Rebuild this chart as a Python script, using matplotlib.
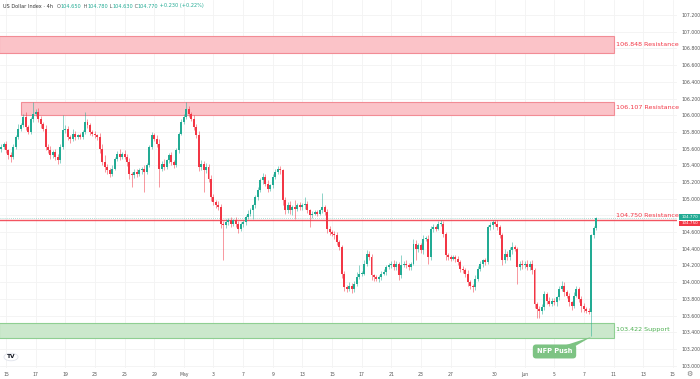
import matplotlib as mpl
mpl.use('Agg')
import matplotlib.pyplot as plt
from matplotlib.patches import Rectangle, Polygon, Circle
import numpy as np

# 4h candles, first two are the tail of Apr 12, then Apr 15 .. Jun 7 (6 per trading day)
first_open = 105.60
closes = [
    105.62, 105.66,
    105.58, 105.52, 105.50, 105.62, 105.74, 105.84,  # Apr 15
    105.88, 105.98, 105.86, 105.80, 105.95, 106.02,  # 16
    106.04, 105.96, 105.90, 105.84, 105.62, 105.58,  # 17
    105.52, 105.56, 105.50, 105.46, 105.62, 105.82,  # 18
    105.84, 105.74, 105.72, 105.78, 105.74, 105.76,  # 19
    105.74, 105.80, 105.92, 105.88, 105.80, 105.78,  # 22
    105.76, 105.74, 105.60, 105.44, 105.38, 105.34,  # 23
    105.30, 105.36, 105.48, 105.54, 105.50, 105.54,  # 24
    105.50, 105.44, 105.30, 105.28, 105.32, 105.30,  # 25
    105.34, 105.36, 105.32, 105.40, 105.62, 105.76,  # 26
    105.72, 105.66, 105.36, 105.42, 105.38, 105.46,  # 29
    105.52, 105.44, 105.40, 105.58, 105.78, 105.92,  # 30
    105.98, 106.08, 106.02, 105.96, 105.86, 105.76,  # May 1
    105.38, 105.42, 105.34, 105.38, 105.24, 105.02,  # 2
    104.96, 104.92, 104.90, 104.70, 104.68, 104.72,  # 3
    104.74, 104.70, 104.74, 104.70, 104.64, 104.70,  # 6
    104.72, 104.78, 104.82, 104.86, 104.92, 105.02,  # 7
    105.10, 105.22, 105.26, 105.18, 105.12, 105.16,  # 8
    105.26, 105.32, 105.36, 105.34, 104.98, 104.86,  # 9
    104.92, 104.86, 104.90, 104.88, 104.92, 104.90,  # 10
    104.92, 104.94, 104.86, 104.80, 104.82, 104.84,  # 13
    104.82, 104.86, 104.90, 104.84, 104.64, 104.60,  # 14
    104.58, 104.56, 104.48, 104.42, 104.10, 103.94,  # 15
    103.92, 103.96, 103.92, 103.98, 104.06, 104.10,  # 16
    104.10, 104.22, 104.34, 104.30, 104.08, 104.06,  # 17
    104.04, 104.06, 104.10, 104.12, 104.18, 104.20,  # 20
    104.22, 104.18, 104.22, 104.08, 104.20, 104.22,  # 21
    104.20, 104.18, 104.22, 104.46, 104.40, 104.44,  # 22
    104.38, 104.52, 104.52, 104.30, 104.64, 104.66,  # 23
    104.64, 104.70, 104.70, 104.58, 104.32, 104.30,  # 24
    104.28, 104.30, 104.28, 104.24, 104.16, 104.14,  # 27
    104.10, 104.00, 103.96, 103.94, 104.04, 104.16,  # 28
    104.22, 104.26, 104.24, 104.66, 104.68, 104.72,  # 29
    104.70, 104.66, 104.56, 104.26, 104.34, 104.30,  # 30
    104.38, 104.42, 104.40, 104.18, 104.22, 104.20,  # 31
    104.22, 104.18, 104.22, 104.14, 103.74, 103.68,  # Jun 3
    103.66, 103.70, 103.86, 103.78, 103.74, 103.78,  # 4
    103.76, 103.82, 103.92, 103.96, 103.88, 103.84,  # 5
    103.76, 103.72, 103.84, 103.92, 103.80, 103.72,  # 6
    103.68, 103.66, 103.64, 104.56, 104.65, 104.77,  # 7
]
upper_wick = [
    0.03, 0.02,
    0.03, 0.02, 0.04, 0.03, 0.02, 0.05,
    0.03, 0.04, 0.06, 0.02, 0.03, 0.14,
    0.04, 0.05, 0.03, 0.02, 0.04, 0.03,
    0.05, 0.02, 0.03, 0.04, 0.03, 0.18,
    0.04, 0.03, 0.02, 0.05, 0.03, 0.02,
    0.03, 0.02, 0.12, 0.04, 0.03, 0.02,
    0.03, 0.02, 0.05, 0.06, 0.08, 0.04,
    0.03, 0.04, 0.02, 0.03, 0.05, 0.02,
    0.04, 0.03, 0.05, 0.02, 0.03, 0.04,
    0.03, 0.02, 0.04, 0.03, 0.02, 0.04,
    0.03, 0.04, 0.06, 0.03, 0.05, 0.02,
    0.03, 0.04, 0.02, 0.03, 0.02, 0.03,
    0.04, 0.08, 0.03, 0.02, 0.04, 0.03,
    0.05, 0.04, 0.03, 0.05, 0.03, 0.04,
    0.04, 0.03, 0.05, 0.04, 0.03, 0.04,
    0.03, 0.04, 0.02, 0.04, 0.03, 0.02,
    0.03, 0.02, 0.04, 0.03, 0.02, 0.03,
    0.04, 0.03, 0.05, 0.03, 0.04, 0.02,
    0.03, 0.04, 0.03, 0.03, 0.02, 0.04,
    0.04, 0.05, 0.03, 0.08, 0.03, 0.04,
    0.03, 0.08, 0.03, 0.02, 0.03, 0.02,
    0.03, 0.02, 0.17, 0.03, 0.04, 0.03,
    0.02, 0.03, 0.04, 0.03, 0.02, 0.03,
    0.03, 0.04, 0.03, 0.04, 0.06, 0.10,
    0.03, 0.04, 0.05, 0.03, 0.04, 0.02,
    0.03, 0.02, 0.03, 0.04, 0.02, 0.03,
    0.03, 0.04, 0.03, 0.02, 0.12, 0.03,
    0.04, 0.03, 0.02, 0.06, 0.04, 0.03,
    0.03, 0.04, 0.03, 0.04, 0.03, 0.04,
    0.03, 0.03, 0.04, 0.03, 0.02, 0.03,
    0.02, 0.03, 0.02, 0.03, 0.02, 0.03,
    0.03, 0.04, 0.03, 0.02, 0.04, 0.03,
    0.03, 0.02, 0.03, 0.03, 0.04, 0.03,
    0.03, 0.04, 0.02, 0.03, 0.06, 0.03,
    0.04, 0.06, 0.03, 0.02, 0.03, 0.04,
    0.03, 0.04, 0.03, 0.04, 0.03, 0.02,
    0.03, 0.04, 0.03, 0.02, 0.04, 0.03,
    0.03, 0.02, 0.04, 0.05, 0.04, 0.03,
    0.03, 0.02, 0.04, 0.03, 0.02, 0.03,
    0.03, 0.02, 0.03, 0.02, 0.02, 0.01,
]
lower_wick = [
    0.04, 0.03,
    0.03, 0.05, 0.06, 0.02, 0.03, 0.02,
    0.03, 0.02, 0.04, 0.03, 0.02, 0.03,
    0.03, 0.04, 0.05, 0.03, 0.04, 0.03,
    0.04, 0.03, 0.04, 0.05, 0.03, 0.02,
    0.03, 0.04, 0.05, 0.03, 0.04, 0.03,
    0.02, 0.03, 0.02, 0.03, 0.04, 0.03,
    0.03, 0.04, 0.05, 0.04, 0.06, 0.05,
    0.04, 0.03, 0.02, 0.03, 0.04, 0.02,
    0.03, 0.05, 0.06, 0.14, 0.03, 0.04,
    0.03, 0.04, 0.24, 0.03, 0.02, 0.03,
    0.03, 0.04, 0.22, 0.03, 0.04, 0.03,
    0.03, 0.04, 0.03, 0.02, 0.03, 0.02,
    0.03, 0.02, 0.04, 0.03, 0.04, 0.03,
    0.05, 0.04, 0.26, 0.03, 0.04, 0.05,
    0.04, 0.03, 0.04, 0.05, 0.42, 0.03,
    0.03, 0.04, 0.03, 0.04, 0.05, 0.03,
    0.04, 0.03, 0.02, 0.03, 0.10, 0.03,
    0.03, 0.02, 0.04, 0.03, 0.04, 0.03,
    0.03, 0.02, 0.03, 0.04, 0.05, 0.04,
    0.03, 0.04, 0.05, 0.12, 0.03, 0.04,
    0.03, 0.04, 0.03, 0.14, 0.03, 0.02,
    0.03, 0.02, 0.03, 0.04, 0.05, 0.04,
    0.03, 0.04, 0.03, 0.04, 0.05, 0.04,
    0.04, 0.03, 0.05, 0.04, 0.03, 0.02,
    0.03, 0.02, 0.03, 0.04, 0.05, 0.04,
    0.03, 0.04, 0.03, 0.02, 0.03, 0.02,
    0.03, 0.04, 0.03, 0.05, 0.03, 0.02,
    0.03, 0.04, 0.03, 0.02, 0.13, 0.04,
    0.03, 0.04, 0.03, 0.08, 0.03, 0.04,
    0.03, 0.02, 0.03, 0.04, 0.05, 0.03,
    0.03, 0.02, 0.04, 0.03, 0.04, 0.03,
    0.04, 0.05, 0.04, 0.06, 0.03, 0.02,
    0.03, 0.04, 0.03, 0.02, 0.03, 0.04,
    0.03, 0.04, 0.03, 0.05, 0.03, 0.04,
    0.03, 0.04, 0.03, 0.20, 0.03, 0.04,
    0.03, 0.04, 0.03, 0.04, 0.05, 0.11,
    0.09, 0.04, 0.03, 0.04, 0.03, 0.02,
    0.03, 0.04, 0.03, 0.02, 0.04, 0.03,
    0.04, 0.05, 0.03, 0.02, 0.04, 0.08,
    0.04, 0.03, 0.02, 0.28, 0.03, 0.02,
]

# date labels: trading-day number counted from Apr 15
tick_days = [0, 2, 4, 6, 8, 10, 12, 14, 16, 18, 20, 22, 24, 26, 28, 30, 33, 35, 37, 39, 41, 43, 45]
tick_labels = ['15', '17', '19', '23', '25', '29', 'May', '3', '7', '9', '13', '15',
               '17', '21', '23', '27', '30', 'Jun', '5', '7', '11', '13', '15']
price_ticks = [103.0, 103.2, 103.4, 103.6, 103.8, 104.0, 104.2, 104.4, 104.6, 104.8,
               105.0, 105.2, 105.4, 105.6, 105.8, 106.0, 106.2, 106.4, 106.6, 106.8,
               107.0, 107.2]

# levels (bottom, top) of the drawn zones and the line
res_zone_1 = (106.75, 106.95)
res_zone_2 = (106.00, 106.16)
sup_zone = (103.33, 103.51)
res_line = 104.750
last_price = 104.770

UP = '#22ab94'
DOWN = '#f23645'

closes = np.array(closes)
opens = np.concatenate([[first_open], closes[:-1]])
highs = np.maximum(opens, closes) + np.array(upper_wick)
lows = np.minimum(opens, closes) - np.array(lower_wick)
x = np.arange(len(closes)) - 2
colors = np.where(closes >= opens, UP, DOWN)

fig = plt.figure(figsize=(7, 3.79), dpi=100)
ax = fig.add_axes([0, 11 / 379, 677 / 700, 368 / 379])
ax.set_xlim(-2.43, 271.7)
ax.set_ylim(102.972, 107.38)

ax.set_xticks([d * 6 for d in tick_days])
ax.set_xticklabels(tick_labels)
ax.set_yticks(price_ticks)
# 104.800 sits behind the price tags
ax.set_yticklabels(['' if abs(p - 104.8) < 1e-6 else '%.3f' % p for p in price_ticks])
ax.yaxis.tick_right()
ax.tick_params(axis='y', length=0, pad=3.5, labelsize=3.3, colors='#555555')
ax.tick_params(axis='x', length=0, pad=2.8, labelsize=3.3, colors='#555555')
ax.grid(color='#f3f3f3', lw=0.6)
ax.set_axisbelow(True)
for s in ax.spines.values():
    s.set_visible(False)

zone_end = 246.2
ax.add_patch(Rectangle((-3, res_zone_1[0]), zone_end + 3, res_zone_1[1] - res_zone_1[0],
                       facecolor='#fbc3c8', edgecolor='#f28c95', lw=0.8, zorder=1))
ax.add_patch(Rectangle((6.1, res_zone_2[0]), zone_end - 6.1, res_zone_2[1] - res_zone_2[0],
                       facecolor='#fbc3c8', edgecolor='#f28c95', lw=0.8, zorder=1))
ax.add_patch(Rectangle((-3, sup_zone[0]), zone_end + 3, sup_zone[1] - sup_zone[0],
                       facecolor='#cbe8cc', edgecolor='#8fcf92', lw=0.8, zorder=1))
ax.axhline(last_price, color=UP, lw=0.6, ls=(0, (1, 1.5)), alpha=0.5, zorder=1)
ax.axhline(res_line, color=DOWN, lw=1.0, alpha=0.85, zorder=1)

# candles
ax.vlines(x, lows, highs, colors=colors, lw=0.6, alpha=0.6, zorder=2)
ax.bar(x, np.maximum(np.abs(closes - opens), 0.008), bottom=np.minimum(opens, closes),
       width=0.8, color=colors, lw=0, zorder=3)

lbl_x = 247
lbl_fs = 4.6
ax.text(lbl_x, 106.848, '106.848 Resistance', color=DOWN, fontsize=lbl_fs, va='center', ha='left')
ax.text(lbl_x, 106.09, '106.107 Resistance', color=DOWN, fontsize=lbl_fs, va='center', ha='left')
ax.text(lbl_x, 104.80, '104.750 Resistance', color=DOWN, fontsize=lbl_fs, va='center', ha='left')
ax.text(lbl_x, 103.43, '103.422 Support', color='#4caf50', fontsize=lbl_fs, va='center', ha='left')

# NFP callout
ax.add_patch(Polygon([(224.0, 103.22), (228.5, 103.20), (237, 103.345)],
                     closed=True, facecolor='#7dc383', edgecolor='none', zorder=4))
ax.text(222.1, 103.17, 'NFP Push', color='white', fontsize=4.8, fontweight='bold',
        ha='center', va='center', zorder=5,
        bbox=dict(boxstyle='round,pad=0.6,rounding_size=0.5', facecolor='#7dc383',
                  edgecolor='none'))

# header
fig.text(3 / 700, 1 - 6 / 379, 'US Dollar Index · 4h', fontsize=3.6, color='#333333', va='center')
hx = 57 / 700
parts = [('O', '#555555'), ('104.650', UP), (' H', '#555555'), ('104.780', UP),
         (' L', '#555555'), ('104.630', UP), (' C', '#555555'), ('104.770', UP),
         (' +0.230 (+0.22%)', UP)]
fig.canvas.draw()
renderer = fig.canvas.get_renderer()
for txt, col in parts:
    t = fig.text(hx, 1 - 6 / 379, txt, fontsize=3.6, color=col, va='center')
    bb = t.get_window_extent(renderer)
    hx += bb.width / fig.bbox.width

# price tags on the right axis
for yv, col, txt in [(last_price + 0.012, UP, '104.770'), (res_line - 0.045, DOWN, '104.750')]:
    yc = 1 - (107.38 - yv) * 83.5 / 379
    fig.patches.append(Rectangle((679 / 700, yc - 2.8 / 379), 21 / 700, 5.6 / 379,
                                 transform=fig.transFigure, facecolor=col, edgecolor='none'))
    fig.text(689.5 / 700, yc, txt, fontsize=3.0, color='white', ha='center', va='center')

# TradingView badge and settings icon
fig.patches.append(Circle((11 / 700, 1 - 357 / 379), 7 / 700, transform=fig.transFigure,
                          facecolor='white', edgecolor='#e0e3eb', lw=0.6))
fig.text(11 / 700, 1 - 357 / 379, 'TV', fontsize=4.2, fontweight='bold', color='#131722',
         ha='center', va='center')
fig.text(689 / 700, 1 - 374 / 379, '\u2699', fontsize=5, color='#777777', ha='center', va='center')

fig.savefig('out.png', dpi=100)
